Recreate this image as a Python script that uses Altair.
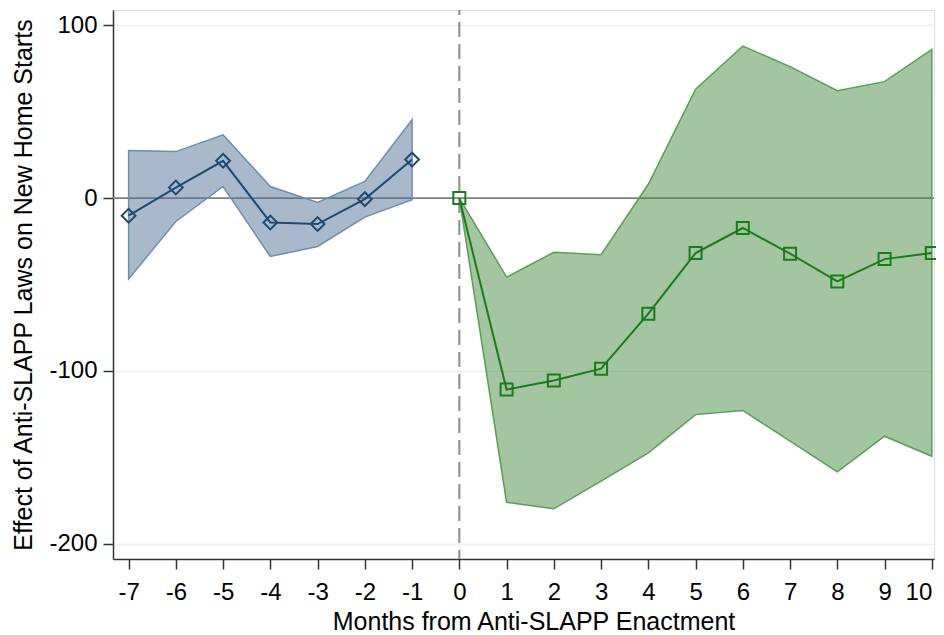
import altair as alt
import pandas as pd

# ---- data ----
months_pre = [-7, -6, -5, -4, -3, -2, -1]
est_pre = [-10.2, 6.1, 21.6, -14.1, -15.0, -0.6, 22.3]
hi_pre = [27.5, 26.9, 36.6, 6.7, -2.5, 9.6, 45.3]
lo_pre = [-46.8, -13.5, 6.7, -33.8, -28.0, -11.0, -1.0]

months_post = [0, 1, 2, 3, 4, 5, 6, 7, 8, 9, 10]
est_post = [0, -110.8, -105.6, -98.7, -66.9, -31.8, -17.3, -32.2, -48.2, -35.3, -31.8]
hi_post = [0, -45.7, -31.4, -32.8, 8.0, 63.0, 88.0, 76.1, 62.2, 67.4, 86.1]
lo_post = [0, -176.0, -179.8, -163.8, -147.4, -125.3, -122.9, -140.7, -158.4, -137.8, -149.4]

x_ticks = list(range(-7, 11))
y_ticks = [-200, -100, 0, 100]
x_title = "Months from Anti-SLAPP Enactment"
y_title = "Effect of Anti-SLAPP Laws on New Home Starts"

pre = pd.DataFrame({"month": months_pre, "est": est_pre, "lo": lo_pre, "hi": hi_pre})
post = pd.DataFrame({"month": months_post, "est": est_post, "lo": lo_post, "hi": hi_post})
zero_df = pd.DataFrame({"v": [0]})

FONT = "Liberation Sans"
# plot spans page x 113..934 (821 px), 47.25 px per month
xs = alt.Scale(domain=[-7.33, 10.046], nice=False, zero=False)
ys = alt.Scale(domain=[-208.85, 108.85], nice=False, zero=False)

x_axis = alt.Axis(
    values=x_ticks, title=x_title, grid=False, labelExpr="datum.value + ''",
    domainColor="#333333", domainWidth=1.5, tickColor="#333333", tickWidth=1.5,
    tickSize=10, labelFontSize=24, labelFont=FONT, labelColor="#000000",
    labelBaseline="alphabetic", labelPadding=30, labelFlush=False, labelOverlap=False,
    labelAlign=alt.condition("datum.value == 10", alt.value("right"), alt.value("center")),
    titleFont=FONT, titleFontSize=25, titleFontWeight="normal", titleColor="#000000",
    titleX=420.5, titleY=70, titleAlign="center", titleBaseline="alphabetic",
)
y_axis = alt.Axis(
    values=y_ticks, title=y_title, grid=True, gridColor="#eaf2f3", gridWidth=1.5,
    labelExpr="datum.value + ''",
    domainColor="#333333", domainWidth=1.5, tickColor="#333333", tickWidth=1.5,
    tickSize=10, labelFontSize=24, labelFont=FONT, labelColor="#000000",
    labelPadding=6, labelFlush=False, labelOverlap=False,
    titleFont=FONT, titleFontSize=25, titleFontWeight="normal", titleColor="#000000",
    titleX=-81.5, titleY=274.5, titleAngle=270, titleAlign="center", titleBaseline="alphabetic",
)

X = lambda f: alt.X(f, scale=xs, axis=x_axis)
Y = lambda f: alt.Y(f, scale=ys, axis=y_axis)

zero_line = alt.Chart(zero_df).mark_rule(color="#7f7f7f", strokeWidth=1.6).encode(
    y=Y("v:Q")
)
vline = alt.Chart(zero_df).mark_rule(
    color="#8c8c8c", strokeWidth=2, strokeDash=[15, 7], strokeDashOffset=10
).encode(x=X("v:Q"))

band_pre = alt.Chart(pre).mark_area(
    color="#53739a", fillOpacity=0.5, stroke="#6e8dab", strokeWidth=1.5, strokeOpacity=1
).encode(x=X("month:Q"), y=Y("lo:Q"), y2="hi:Q")
band_post = alt.Chart(post).mark_area(
    color="#478d41", fillOpacity=0.5, stroke="#5b9d58", strokeWidth=1.5, strokeOpacity=1
).encode(x=X("month:Q"), y=Y("lo:Q"), y2="hi:Q")

line_pre = alt.Chart(pre).mark_line(color="#1f4a6e", strokeWidth=2).encode(
    x=X("month:Q"), y=Y("est:Q")
)
pts_pre = alt.Chart(pre).mark_point(
    shape="diamond", filled=False, color="#1f4a6e", size=190, strokeWidth=2, opacity=1
).encode(x=X("month:Q"), y=Y("est:Q"))

line_post = alt.Chart(post).mark_line(color="#1b7a1b", strokeWidth=2).encode(
    x=X("month:Q"), y=Y("est:Q")
)
pts_post = alt.Chart(post).mark_point(
    shape="square", filled=False, color="#1b7a1b", size=144, strokeWidth=2, opacity=1
).encode(x=X("month:Q"), y=Y("est:Q"))

chart = alt.layer(
    zero_line, band_pre, band_post, vline, line_pre, line_post, pts_pre, pts_post
).properties(
    width=821, height=549,
    autosize=alt.AutoSizeParams(type="none"),
    padding={"left": 105, "top": 2, "right": 2, "bottom": 76},
).configure_view(stroke=None).configure(background="white")

chart.save("out.html", embed_options={"renderer": "svg", "actions": False})
